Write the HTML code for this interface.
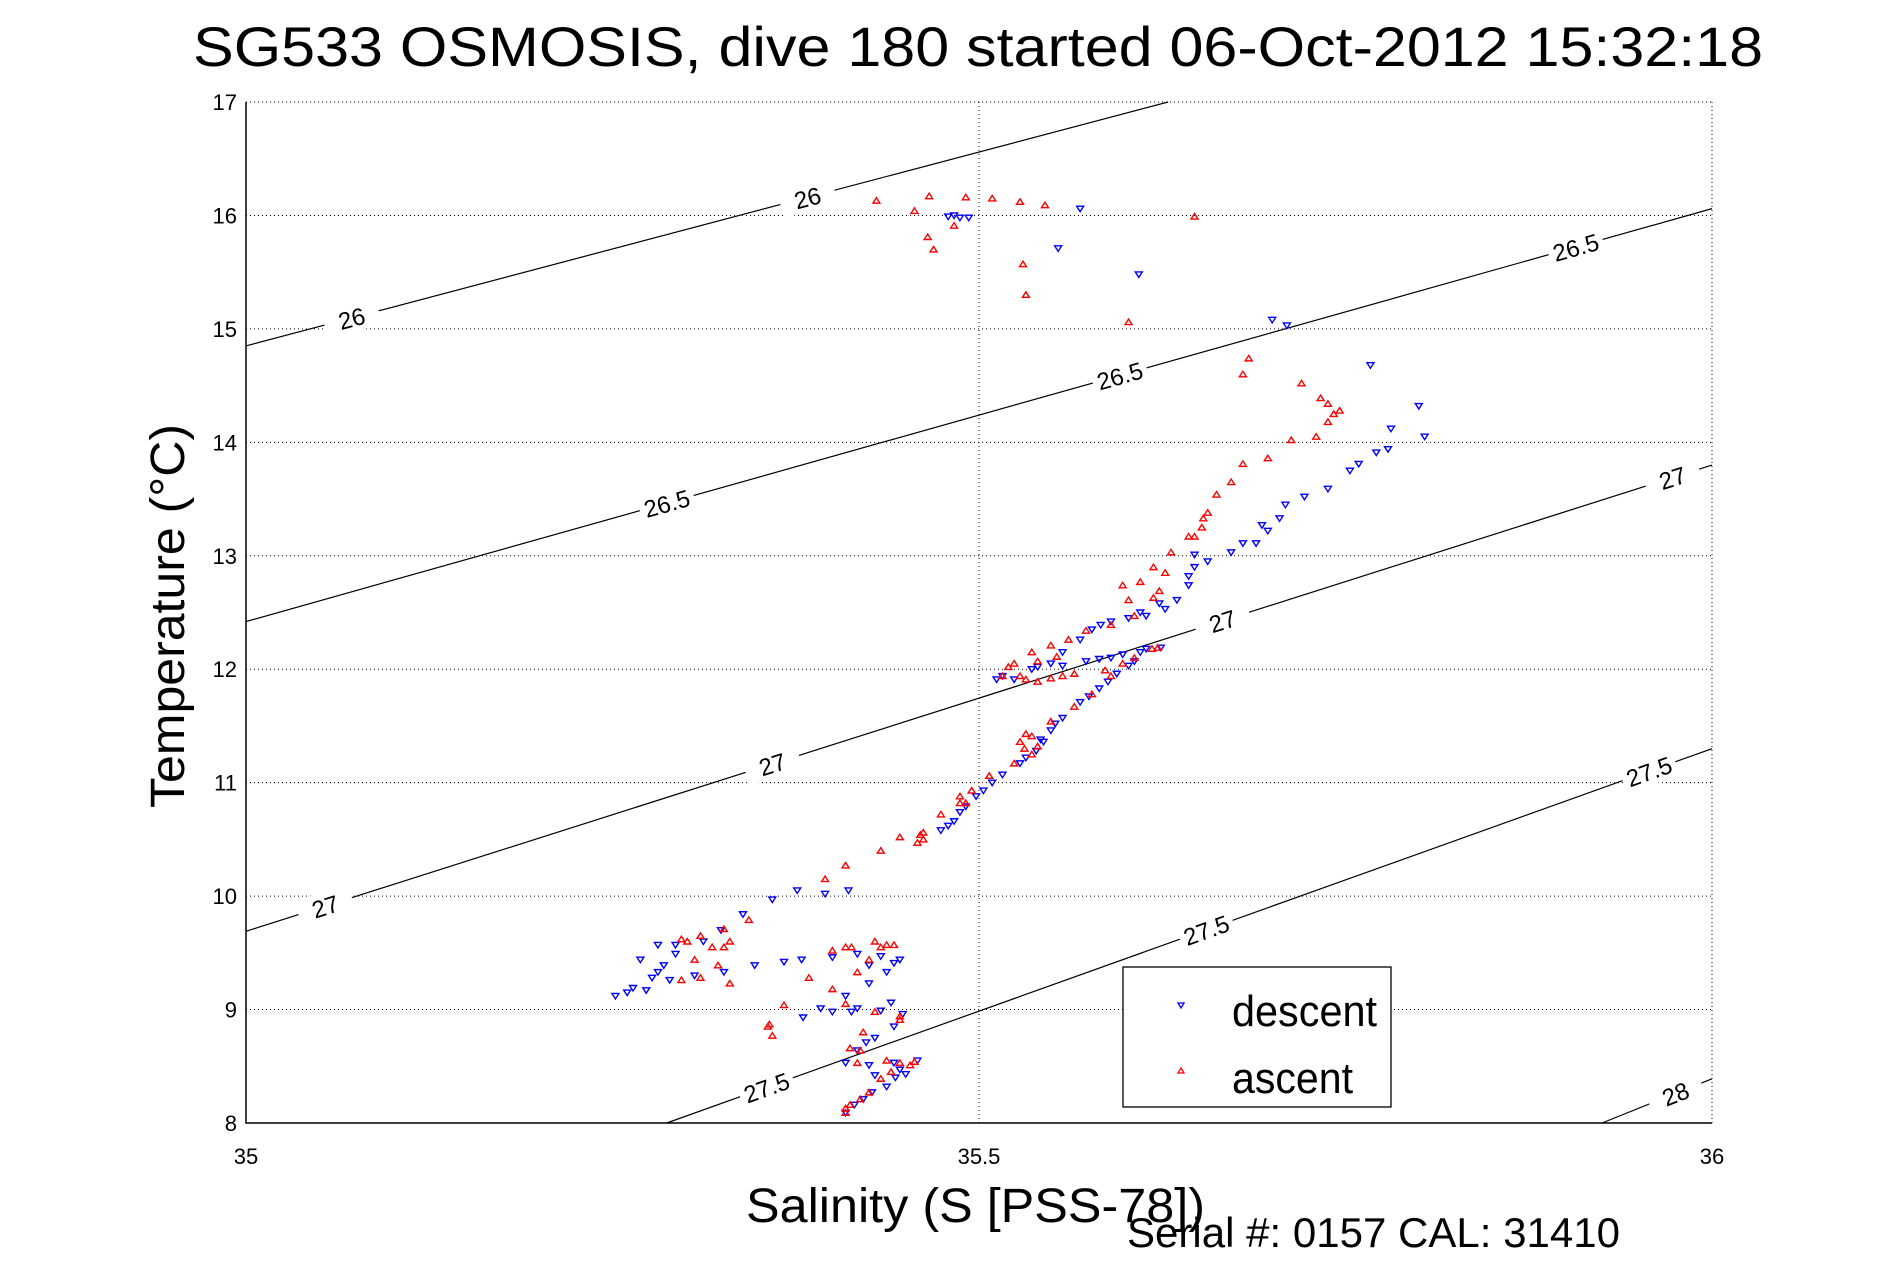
<!DOCTYPE html>
<html><head><meta charset="utf-8"><style>
html,body{margin:0;padding:0;background:#fff;}
svg{display:block;font-family:"Liberation Sans",sans-serif;}
</style></head><body>
<svg id="chart" width="1891" height="1262" viewBox="0 0 1891 1262" xmlns="http://www.w3.org/2000/svg">
<rect width="1891" height="1262" fill="#fff"/>
<text x="978" y="66" font-size="56" text-anchor="middle" textLength="1570" lengthAdjust="spacingAndGlyphs">SG533 OSMOSIS, dive 180 started 06-Oct-2012 15:32:18</text>
<g id="grid"></g>
<g id="contours"></g>
<g id="series"></g>
<g id="axes"></g>
<text x="746" y="1222" font-size="48" textLength="459" lengthAdjust="spacingAndGlyphs">Salinity (S [PSS-78])</text>
<text x="1127" y="1247" font-size="42" textLength="493" lengthAdjust="spacingAndGlyphs">Serial #: 0157  CAL: 31410</text>
<text transform="translate(184,616) rotate(-90)" font-size="48" text-anchor="middle" textLength="384" lengthAdjust="spacingAndGlyphs">Temperature (°C)</text>
<g>
<rect x="1123" y="967" width="268" height="140" fill="#fff" stroke="#000" stroke-width="1.3"/>
<path d="M1178,1003 L1184,1003 L1181,1008 Z" fill="none" stroke="#00f" stroke-width="1.3"/>
<text x="1232" y="1026" font-size="44" textLength="145" lengthAdjust="spacingAndGlyphs">descent</text>
<path d="M1178,1073 L1184,1073 L1181,1068 Z" fill="none" stroke="#f00" stroke-width="1.3"/>
<text x="1232" y="1093" font-size="44" textLength="121" lengthAdjust="spacingAndGlyphs">ascent</text>
</g>
</svg>
<script>
const xTicks=[35,35.5,36];
const xTickLabels=["35","35.5","36"];
const yTicks=[8,9,10,11,12,13,14,15,16,17];
const yTickLabels=["8","9","10","11","12","13","14","15","16","17"];
const contourLevels=["26","26.5","27","27.5","28"];
const contourS0=[35,35,35,35.287,35.925];
const contourT0=[14.85,12.42,9.69,8,8];
const contourS1=[35.629,36,36,36,36];
const contourT1=[17,16.06,13.80,11.30,8.39];
const contourLabelS=[[35.072,35.383],[35.287,35.596,35.907],[35.054,35.359,35.666,35.973],[35.355,35.655,35.957],[35.975]];
const descS=[35.479,35.483,35.487,35.493,35.569,35.554,35.609,35.700,35.710,35.767,35.800,35.781,35.804,35.771,35.753,35.738,35.722,35.705,35.697,35.689,35.672,35.656,35.647,35.643,35.635,35.627,35.614,35.602,35.590,35.577,35.569,35.557,35.549,35.536,35.524,35.512,35.573,35.590,35.610,35.624,35.606,35.594,35.582,35.569,35.557,35.549,35.544,35.539,35.528,35.516,35.503,35.491,35.483,35.474,35.411,35.395,35.376,35.359,35.339,35.324,35.312,35.293,35.281,35.285,35.277,35.264,35.252,35.273,35.289,35.306,35.326,35.347,35.367,35.379,35.400,35.417,35.433,35.446,35.437,35.425,35.409,35.392,35.380,35.400,35.417,35.433,35.448,35.442,35.429,35.417,35.409,35.425,35.442,35.458,35.450,35.437,35.421,35.409,
35.516,35.540,35.557,35.582,35.598,35.614,35.602,35.588,35.575,35.552,35.542,35.532,35.509,35.498,35.487,35.479,35.623,35.610,35.583,35.643,35.647,35.680,35.693,35.709,35.759,35.779,35.429,35.446,35.415,35.427,35.443,35.423,35.413,35.440,35.425,35.442,35.269,35.281,35.260,35.293];
const descT=[15.99,16.00,15.98,15.98,16.06,15.71,15.48,15.08,15.03,14.68,14.32,14.12,14.05,13.91,13.75,13.59,13.52,13.33,13.22,13.11,13.03,12.95,12.90,12.74,12.61,12.53,12.47,12.45,12.42,12.35,12.26,12.15,12.05,12.00,11.91,11.91,12.07,12.10,12.15,12.19,12.07,11.96,11.83,11.71,11.57,11.46,11.36,11.28,11.17,11.07,10.93,10.79,10.66,10.58,10.05,10.02,10.05,9.97,9.84,9.70,9.60,9.49,9.57,9.39,9.28,9.19,9.12,9.17,9.26,9.30,9.33,9.39,9.42,9.44,9.46,9.49,9.47,9.44,9.33,9.23,9.12,9.01,8.93,8.98,9.01,8.99,8.96,8.85,8.75,8.64,8.53,8.51,8.53,8.55,8.43,8.32,8.21,8.09,
11.94,12.02,12.03,12.09,12.13,12.18,12.03,11.89,11.76,11.52,11.38,11.22,11.00,10.88,10.74,10.62,12.58,12.50,12.39,12.82,13.01,13.11,13.27,13.45,13.81,13.94,8.42,8.47,8.16,8.27,8.40,8.71,8.98,9.06,9.39,9.41,9.44,9.33,9.15,9.57];
const ascS=[35.430,35.466,35.491,35.509,35.528,35.545,35.456,35.483,35.465,35.469,35.530,35.532,35.602,35.647,35.684,35.680,35.720,35.733,35.746,35.738,35.730,35.713,35.697,35.680,35.672,35.662,35.656,35.652,35.643,35.631,35.619,35.610,35.598,35.602,35.619,35.606,35.590,35.573,35.561,35.549,35.536,35.524,35.516,35.532,35.549,35.565,35.622,35.606,35.590,35.577,35.565,35.549,35.536,35.528,35.536,35.524,35.507,35.495,35.487,35.474,35.462,35.458,35.446,35.433,35.409,35.395,35.343,35.326,35.310,35.297,35.330,35.318,35.306,35.322,35.330,35.310,35.297,35.400,35.409,35.429,35.437,35.425,35.417,35.400,35.384,35.367,35.357,35.359,35.409,35.429,35.446,35.421,35.412,35.417,35.437,35.453,35.433,35.425,35.412,35.409,
35.520,35.540,35.553,35.528,35.540,35.557,35.618,35.598,35.586,35.532,35.531,35.540,35.487,35.491,35.462,35.460,35.623,35.627,35.647,35.653,35.738,35.742,35.413,35.433,35.446,35.456,35.440,35.419,35.409,35.419,35.446,35.442,35.326,35.301,35.356];
const ascT=[16.13,16.17,16.16,16.15,16.12,16.09,16.04,15.91,15.81,15.70,15.57,15.30,15.06,15.99,14.74,14.60,14.52,14.39,14.28,14.18,14.05,14.02,13.86,13.81,13.65,13.54,13.38,13.25,13.17,13.03,12.90,12.77,12.74,12.61,12.63,12.47,12.39,12.34,12.26,12.21,12.15,12.05,11.94,11.91,11.92,11.96,12.19,12.10,11.94,11.78,11.67,11.54,11.41,11.36,11.25,11.17,11.06,10.93,10.82,10.72,10.56,10.47,10.52,10.40,10.27,10.15,9.79,9.71,9.65,9.62,9.60,9.55,9.44,9.39,9.23,9.28,9.26,9.52,9.55,9.60,9.57,9.44,9.33,9.18,9.28,9.04,8.87,8.77,9.05,8.98,8.91,8.80,8.66,8.53,8.55,8.51,8.39,8.27,8.16,8.09,
12.02,12.07,12.11,11.94,11.89,11.94,12.18,12.05,11.99,11.43,11.30,11.32,10.88,10.82,10.50,10.54,12.69,12.85,13.17,13.33,14.34,14.25,9.55,9.55,8.53,8.54,8.45,8.21,8.13,8.64,8.94,9.57,9.55,9.60,8.85];

const NS="http://www.w3.org/2000/svg";
const L=246,R=1712,T=102,B=1123;
const sx=s=>L+(s-35)/(36-35)*(R-L);
const sy=t=>B-(t-8)/(17-8)*(B-T);
function mk(tag,parent,attrs){const e=document.createElementNS(NS,tag);for(const k in attrs)e.setAttribute(k,attrs[k]);parent.appendChild(e);return e;}
const grid=document.getElementById('grid'),axes=document.getElementById('axes'),cont=document.getElementById('contours'),ser=document.getElementById('series');
yTicks.forEach((v,i)=>{
  const g=mk('line',grid,{x1:L,x2:R,y1:sy(v),y2:sy(v),stroke:'#000','stroke-width':1,'stroke-dasharray':'1 3'});
  
  
  const t=mk('text',axes,{x:L-9,y:sy(v)+8,'font-size':22,'text-anchor':'end'});t.textContent=yTickLabels[i];
  
  
});
xTicks.forEach((v,i)=>{
  const g=mk('line',grid,{x1:sx(v),x2:sx(v),y1:T,y2:B,stroke:'#000','stroke-width':1,'stroke-dasharray':'1 3'});
  
  
  const t=mk('text',axes,{x:sx(v),y:1164,'font-size':22,'text-anchor':'middle'});t.textContent=xTickLabels[i];
  
  
});
const axl=mk('path',axes,{d:`M${L},${T} L${L},${B} L${R},${B}`,fill:'none',stroke:'#000','stroke-width':1.5});


contourLevels.forEach((lev,i)=>{
  const x0=sx(contourS0[i]),y0=sy(contourT0[i]),x1=sx(contourS1[i]),y1=sy(contourT1[i]);
  const ln=mk('line',cont,{x1:x0,y1:y0,x2:x1,y2:y1,stroke:'#000','stroke-width':1.2});
  
  
  const ang=Math.atan2(y1-y0,x1-x0)*180/Math.PI;
  contourLabelS[i].forEach(s=>{
    const f=(s-contourS0[i])/(contourS1[i]-contourS0[i]);
    const cx=x0+f*(x1-x0),cy=y0+f*(y1-y0);
    const g=mk('g',cont,{transform:`translate(${cx},${cy}) rotate(${ang})`});
    
    
    mk('rect',g,{x:-28,y:-14,width:56,height:28,fill:'#fff'});
    const t=mk('text',g,{x:0,y:9,'font-size':24,'text-anchor':'middle'});t.textContent=lev;
  });
});
function tri(x,y,down,col){
  const d=down?`M${x-3.5},${y-2.5} L${x+3.5},${y-2.5} L${x},${y+3} Z`:`M${x-3.5},${y+2.5} L${x+3.5},${y+2.5} L${x},${y-3} Z`;
  const p=mk('path',ser,{d:d,fill:'none',stroke:col,'stroke-width':1.4});
  return p;
}
descS.forEach((s,i)=>{
  const p=tri(sx(s),sy(descT[i]),true,'#00f');
  
  
});
ascS.forEach((s,i)=>{
  const p=tri(sx(s),sy(ascT[i]),false,'#f00');
  
  
});
</script>
</body></html>
